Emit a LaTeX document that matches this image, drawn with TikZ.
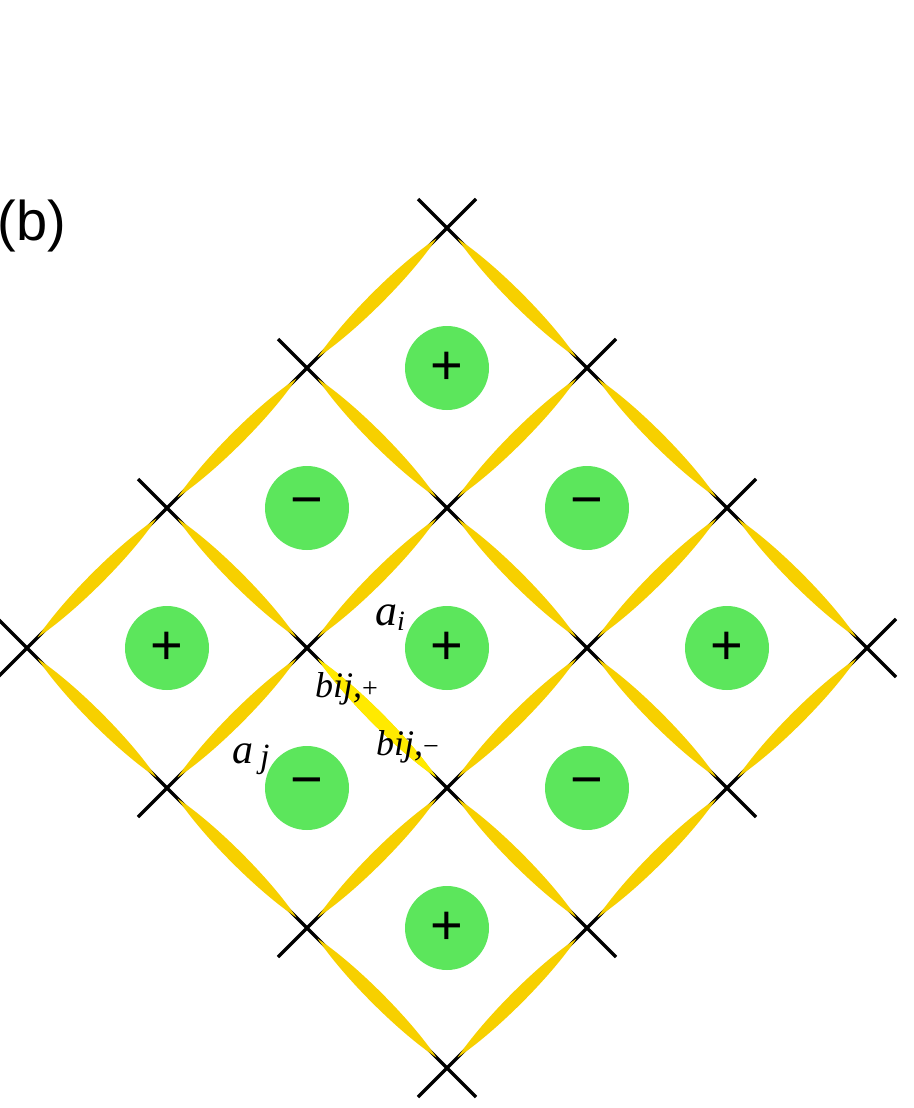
\documentclass[tikz,border=0pt]{standalone}
\usepackage{fontspec}
\setmainfont{Liberation Serif}
\newfontfamily\signfont{Liberation Sans}
\definecolor{lensgold}{RGB}{247,208,0}
\definecolor{lenslight}{RGB}{255,234,0}
\definecolor{plaqgreen}{RGB}{92,230,92}

\tikzset{
  plaq/.style={circle,fill=plaqgreen,minimum size=84pt,inner sep=0pt,
    font=\signfont\fontsize{56}{56}\selectfont},
  vcross/.style={line width=3.5pt,black},
  lab/.style={font=\itshape\fontsize{36}{36}\selectfont,inner sep=0pt},
}
% lens-shaped bond leaving site #2 in direction #3
\newcommand\bondlens[3][lensgold]{%
  \fill[#1,shift={(#2)},rotate=#3] (15,0) .. controls (60,9) and (138,9) .. (183,0)
    .. controls (138,-9) and (60,-9) .. (15,0) -- cycle;}

\begin{document}
\begin{tikzpicture}[x=1pt,y=-1pt]
\useasboundingbox (0,0) rectangle (913,1108);
% lattice sites
\foreach \i in {0,...,3}
  \foreach \j in {0,...,3}
    \coordinate (v-\i-\j) at ({447-140*\i+140*\j},{228+140*\i+140*\j});
\foreach \i in {0,...,3}
  \foreach \j in {0,...,3}
    \draw[vcross] (v-\i-\j) +(-29,-29) -- +(29,29) +(-29,29) -- +(29,-29);
% bonds
\foreach \i in {0,...,3}
  \foreach \j in {0,1,2}{
    \bondlens{v-\i-\j}{-45}
    \bondlens{v-\j-\i}{-135}
  }
\bondlens[lenslight]{v-2-1}{-45}
% plaquettes
\foreach \i in {0,...,2}
  \foreach \j in {0,...,2}{
    \pgfmathtruncatemacro\s{mod(\i+\j,2)}
    \ifnum\s=0
      \node[plaq] (p-\i-\j) at ({447-140*\i+140*\j},{368+140*\i+140*\j}) {+};
    \else
      \node[plaq] (p-\i-\j) at ({447-140*\i+140*\j},{368+140*\i+140*\j}) {−};
    \fi
  }
% labels
\node[lab,anchor=base west] (ai) at (375,625) {\fontsize{44}{44}\selectfont a\raisebox{-5pt}{\fontsize{28}{28}\selectfont i}};
\node[lab,anchor=base west] (aj) at (232,763) {\fontsize{42}{42}\selectfont a\,\raisebox{-4pt}{\fontsize{34}{34}\selectfont j}};
\node[lab,anchor=base west] (bp) at (315,697) {bij,\upshape\fontsize{28}{28}\selectfont +};
\node[lab,anchor=base west] (bm) at (376,755) {bij,\upshape\fontsize{28}{28}\selectfont −};
\node[font=\signfont\fontsize{56}{56}\selectfont,anchor=east,inner sep=0pt] (tag) at (66,226) {(b)};
\end{tikzpicture}
\end{document}
